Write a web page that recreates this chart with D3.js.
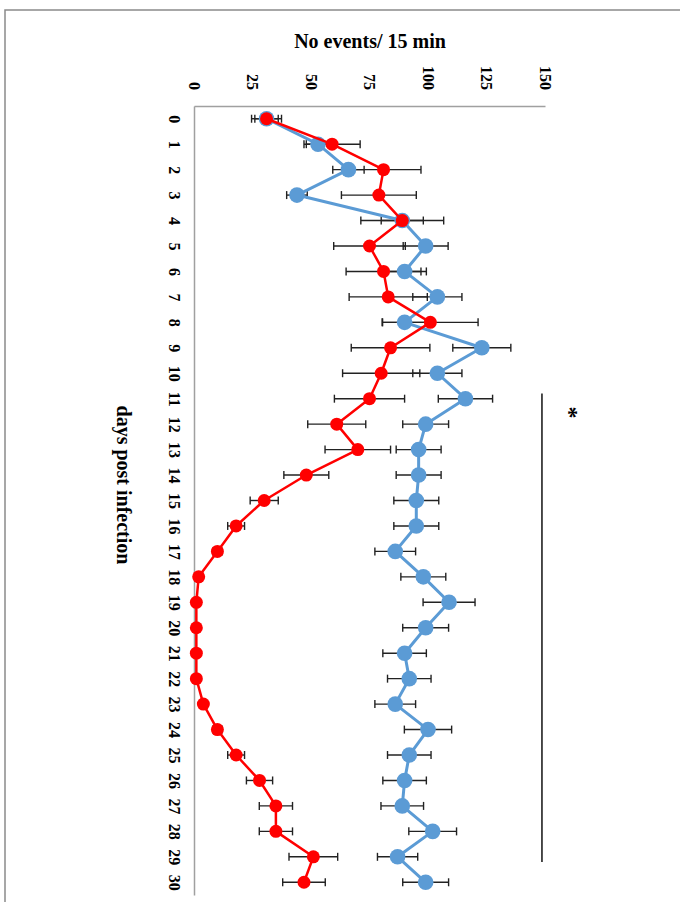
<!DOCTYPE html>
<html>
<head>
<meta charset="utf-8">
<script src="https://cdn.jsdelivr.net/npm/d3@7"></script>
<style>
	body { margin:0; background:#fff; }
	svg text { font-family:"Liberation Serif","Times New Roman",serif; font-weight:bold; fill:#000; }
</style>
</head>
<body>
<svg id="chart" width="680" height="902"></svg>
<script>
//days on the (vertical) category axis
var days = d3.range(0,31);
var valueTicks = [0,25,50,75,100,125,150];

//red series (mean +/- err)
var redMean = [31,59,81,79,89,75,81,83,101,84,80,75,61,70,48,30,18,10,2,1,1,1,1,4,10,18,28,35,35,51,47];
var redErr  = [6.4,12,16,16,17.7,15.3,16,16.7,20.4,16.8,16.5,15,12.4,14,9.6,6,3.6,2,1,0.5,0.5,0.5,0.5,1,2,3.6,5.6,7.1,7.1,10.4,9.1];

//blue series (mean +/- err)
var blueMean = [31,53,66,44,89,99,90,104,90,123,104,116,99,96,96,95,95,86,98,109,99,90,92,86,100,92,90,89,102,87,99];
var blueErr  = [5,5,6.7,4.4,9,9.6,9.3,10.5,9.6,12.4,10.5,11.6,9.8,9.6,9.6,9.6,9.6,8.7,9.6,11.1,9.8,9.3,9.3,8.7,10.1,9.3,9.3,9.1,10.2,8.6,9.8];

//significance bar (days range) and its value position
var sigDays = [10.8,29.2];
var sigValue = 148.7;

function plotRotatedChart(domId)
{
	var svg = d3.select('#'+domId);

	//outer frame (only top/left edges visible)
	svg.append('rect')
		.attr('x',5).attr('y',10)
		.attr('width',700).attr('height',920)
		.attr('fill','none')
		.attr('stroke','#8a8a8a')
		.attr('stroke-width',1.5);

	//value runs left->right, days run top->bottom
	var x = d3.scaleLinear().domain([0,150]).range([194,545]);
	var y = d3.scaleLinear().domain([-0.5,30.5]).range([106,895]);

	//value axis (top)
	var xAxis = svg.append('g')
		.attr('transform','translate(0,'+y(-0.5)+')')
		.call(d3.axisTop(x).tickValues(valueTicks).tickSize(0).tickSizeOuter(0));
	xAxis.select('.domain').attr('stroke','#a0a0a0').attr('stroke-width',1.5);
	xAxis.selectAll('text')
		.attr('x',0).attr('y',0).attr('dy','0.35em')
		.attr('text-anchor','end')
		.attr('transform','translate(0,-16) rotate(90)')
		.style('font-size','16px');

	//days axis (left)
	var yAxis = svg.append('g')
		.attr('transform','translate('+x(0)+',0)')
		.call(d3.axisLeft(y).tickValues(days).tickSize(0).tickSizeOuter(0));
	yAxis.select('.domain').attr('stroke','#a0a0a0').attr('stroke-width',1.5);
	yAxis.selectAll('text')
		.attr('x',0).attr('y',0).attr('dy','0.35em')
		.attr('text-anchor','middle')
		.attr('transform','translate(-19,0) rotate(90)')
		.style('font-size','16px');

	//titles
	svg.append('text')
		.attr('x',370).attr('y',48)
		.attr('text-anchor','middle')
		.style('font-size','20px')
		.text('No events/ 15 min');

	svg.append('text')
		.attr('transform','translate(124,485) rotate(90)')
		.attr('dy','0.35em')
		.attr('text-anchor','middle')
		.style('font-size','20px')
		.text('days post infection');

	//significance line + star
	svg.append('line')
		.attr('x1',x(sigValue)).attr('x2',x(sigValue))
		.attr('y1',y(sigDays[0])).attr('y2',y(sigDays[1]))
		.attr('stroke','#111').attr('stroke-width',1.5);
	svg.append('text')
		.attr('transform','translate('+(x(sigValue)+28)+','+(y(sigDays[0])+19)+') rotate(90)')
		.attr('dy','0.35em')
		.attr('text-anchor','middle')
		.style('font-size','24px')
		.text('*');

	var series = [
		{key:'blue', mean:blueMean, err:blueErr, color:'#5b9bd5', width:3, r:7.8},
		{key:'red', mean:redMean, err:redErr, color:'#ff0000', width:2.5, r:6.5}
	];

	//error bars first (under markers)
	series.forEach(function(s) {
		var g = svg.append('g').attr('class','err-'+s.key)
			.attr('stroke','#222').attr('stroke-width',1.4);
		days.forEach(function(d,i) {
			var lo = x(s.mean[i]-s.err[i]);
			var hi = x(s.mean[i]+s.err[i]);
			var yy = y(d);
			g.append('line').attr('x1',lo).attr('x2',hi).attr('y1',yy).attr('y2',yy);
			g.append('line').attr('x1',lo).attr('x2',lo).attr('y1',yy-4).attr('y2',yy+4);
			g.append('line').attr('x1',hi).attr('x2',hi).attr('y1',yy-4).attr('y2',yy+4);
		});
	});

	//lines and markers
	series.forEach(function(s) {
		var line = d3.line()
			.x(function(d,i) { return x(s.mean[i]); })
			.y(function(d) { return y(d); });
		svg.append('path')
			.datum(days)
			.attr('d',line)
			.attr('fill','none')
			.attr('stroke',s.color)
			.attr('stroke-width',s.width)
			.attr('stroke-linejoin','round');
		svg.append('g').selectAll('circle')
			.data(days)
			.enter().append('circle')
			.attr('cx',function(d,i) { return x(s.mean[i]); })
			.attr('cy',function(d) { return y(d); })
			.attr('r',s.r)
			.attr('fill',s.color);
	});
}

plotRotatedChart('chart');
</script>
</body>
</html>
